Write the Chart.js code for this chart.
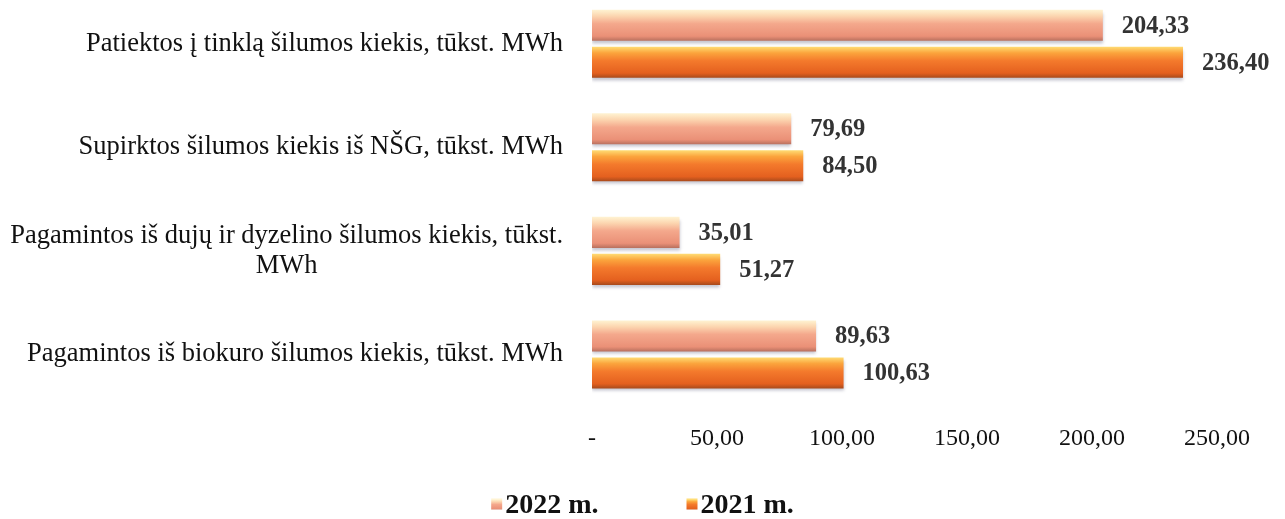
<!DOCTYPE html>
<html>
<head>
<meta charset="utf-8">
<script src="https://cdn.jsdelivr.net/npm/chart.js@4"></script>
<style>
  html, body { margin: 0; padding: 0; background: #fff; }
  #wrap { position: relative; width: 1285px; height: 519px; overflow: hidden; }
  #chart { position: absolute; left: 0; top: -8px; }
</style>
</head>
<body>
<div id="wrap"><canvas id="chart" width="1285" height="527"></canvas></div>
<script>
// Chart data
const categories = [
  ['Patiektos į tinklą šilumos kiekis, tūkst. MWh'],
  ['Supirktos šilumos kiekis iš NŠG, tūkst. MWh'],
  ['Pagamintos iš dujų ir dyzelino šilumos kiekis, tūkst.', 'MWh'],
  ['Pagamintos iš biokuro šilumos kiekis, tūkst. MWh']
];
const values2022 = [204.33, 79.69, 35.01, 89.63];
const values2021 = [236.40, 84.50, 51.27, 100.63];
const seriesLabels = ['2022 m.', '2021 m.'];
const xTickLabels = ['-', '50,00', '100,00', '150,00', '200,00', '250,00'];

const SERIF = '"Liberation Serif", "Times New Roman", serif';

// colour stops for the bevelled bars (top -> bottom)
const barStops = [
  [[0, '#fff3d2'], [0.2, '#fcd6b0'], [0.45, '#f4a88c'], [0.85, '#ea9077'], [1, '#b8705e']],
  [[0, '#ffdc74'], [0.2, '#fba43c'], [0.45, '#f47a2c'], [0.85, '#e4601f'], [1, '#a84a1c']]
];

function makeGrad(ctx, top, bottom, stops) {
  const g = ctx.createLinearGradient(0, top, 0, bottom);
  stops.forEach(s => g.addColorStop(s[0], s[1]));
  return g;
}

function fmt(v) {
  return v.toFixed(2).replace('.', ',');
}

// gradients per bar, soft shadow, labels after bars
const barPainter = {
  id: 'barPainter',
  beforeDatasetsDraw(chart) {
    const ctx = chart.ctx;
    chart.data.datasets.forEach((ds, i) => {
      chart.getDatasetMeta(i).data.forEach(el => {
        const h = el.height;
        el.options.backgroundColor = makeGrad(ctx, el.y - h / 2, el.y + h / 2, barStops[i]);
      });
    });
    ctx.save();
    ctx.shadowColor = 'rgba(90, 90, 120, 0.35)';
    ctx.shadowBlur = 3;
    ctx.shadowOffsetY = 3;
  },
  afterDatasetsDraw(chart) {
    const ctx = chart.ctx;
    ctx.restore();
    ctx.save();
    ctx.font = 'bold 24.5px ' + SERIF;
    ctx.fillStyle = '#333';
    ctx.textBaseline = 'middle';
    ctx.textAlign = 'left';
    chart.data.datasets.forEach((ds, i) => {
      chart.getDatasetMeta(i).data.forEach((el, j) => {
        ctx.fillText(fmt(ds.data[j]), el.x + 19, el.y + 1);
      });
    });
    ctx.restore();
  }
};

// category labels on the left, multi-line centred within block
const categoryLabels = {
  id: 'categoryLabels',
  afterDraw(chart) {
    const ctx = chart.ctx;
    const y = chart.scales.y;
    const right = chart.chartArea.left - 29;
    const lh = 30;
    ctx.save();
    ctx.font = '26.5px ' + SERIF;
    ctx.fillStyle = '#111';
    ctx.textBaseline = 'middle';
    ctx.textAlign = 'center';
    categories.forEach((lines, i) => {
      const cy = y.getPixelForValue(i);
      const w = Math.max(...lines.map(l => ctx.measureText(l).width));
      const cx = right - w / 2;
      lines.forEach((l, k) => {
        ctx.fillText(l, cx, cy + (k - (lines.length - 1) / 2) * lh);
      });
    });
    ctx.restore();
  }
};

// legend at bottom
const bottomLegend = {
  id: 'bottomLegend',
  afterDraw(chart) {
    const ctx = chart.ctx;
    ctx.save();
    ctx.font = 'bold 28px ' + SERIF;
    ctx.textBaseline = 'middle';
    const box = 11, gapBox = 3, gapItem = 88;
    const widths = chart.data.datasets.map(ds => box + gapBox + ctx.measureText(ds.label).width);
    const total = widths.reduce((a, b) => a + b, 0) + gapItem * (widths.length - 1);
    let x = (chart.width - total) / 2;
    const cy = 513;
    chart.data.datasets.forEach((ds, i) => {
      ctx.fillStyle = makeGrad(ctx, cy - box / 2, cy + box / 2, barStops[i]);
      ctx.fillRect(x, cy - box / 2 - 1, box, box);
      ctx.fillStyle = '#111';
      ctx.fillText(ds.label, x + box + gapBox, cy + 1);
      x += widths[i] + gapItem;
    });
    ctx.restore();
  }
};

new Chart(document.getElementById('chart'), {
  type: 'bar',
  data: {
    labels: categories.map(c => c.join(' ')),
    datasets: [
      { label: seriesLabels[0], data: values2022, backgroundColor: () => '#f4a88c' },
      { label: seriesLabels[1], data: values2021, backgroundColor: () => '#f47a2c' }
    ]
  },
  options: {
    indexAxis: 'y',
    responsive: false,
    animation: false,
    events: [],
    categoryPercentage: 0.714,
    barPercentage: 0.84,
    layout: { padding: { left: 592, right: 68, top: 0, bottom: 48 } },
    scales: {
      y: { display: false },
      x: {
        min: 0,
        max: 250,
        grid: { display: false, drawTicks: false },
        border: { display: false },
        ticks: {
          stepSize: 50,
          padding: 18,
          color: '#111',
          font: { family: SERIF, size: 24 },
          callback: (v, i) => xTickLabels[i]
        }
      }
    },
    plugins: {
      legend: { display: false },
      tooltip: { enabled: false }
    }
  },
  plugins: [barPainter, categoryLabels, bottomLegend]
});
</script>
</body>
</html>
